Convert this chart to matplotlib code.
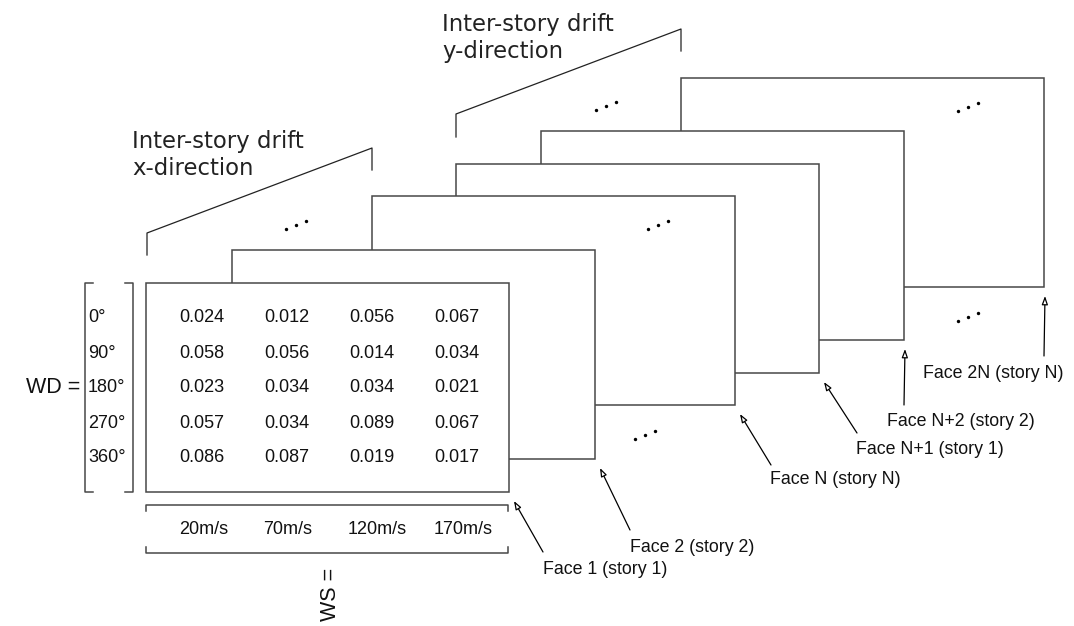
import matplotlib
matplotlib.use('Agg')
from matplotlib import pyplot as plt
from matplotlib.patches import Rectangle

# data shown in the front face
wd_labels = ['0°', '90°', '180°', '270°', '360°']
ws_labels = ['20m/s', '70m/s', '120m/s', '170m/s']
drift = [
    [0.024, 0.012, 0.056, 0.067],
    [0.058, 0.056, 0.014, 0.034],
    [0.023, 0.034, 0.034, 0.021],
    [0.057, 0.034, 0.089, 0.067],
    [0.086, 0.087, 0.019, 0.017],
]
face_labels = ['Face 1 (story 1)', 'Face 2 (story 2)', 'Face N (story N)',
               'Face N+1 (story 1)', 'Face N+2 (story 2)', 'Face 2N (story N)']

# layout (pixel space, y down)
face_xy = [(146, 283), (232, 250), (372, 196), (456, 164), (541, 131), (681, 78)]
face_w, face_h = 363, 209
arrow_tail = [(543, 552), (630, 530), (771, 465), (857, 433), (904, 405), (1044, 356)]
label_xy = [(543, 569), (630, 547), (770, 480), (856, 450), (887, 422), (923, 374)]
dots_at = [(286, 229), (648, 229), (596, 110), (958, 111), (958, 321), (635, 439)]

edge = '#484848'
txt = '#111111'
arial = 'Liberation Sans'
num_fs = 13

fig = plt.figure(figsize=(10.74, 6.26), dpi=100)
ax = fig.add_axes([0, 0, 1, 1])
ax.set_xlim(0, 1074)
ax.set_ylim(626, 0)
ax.axis('off')

# faces, back to front
for i in reversed(range(len(face_xy))):
    x, y = face_xy[i]
    ax.add_patch(Rectangle((x, y), face_w, face_h, facecolor='white',
                           edgecolor=edge, lw=1.1, zorder=2 + (6 - i)))

# arrows to the faces
for i, (x, y) in enumerate(face_xy):
    tip = (x + face_w + (5 if i < 4 else 1), y + face_h + 9)
    ax.annotate('', xy=tip, xytext=arrow_tail[i],
                arrowprops=dict(arrowstyle='-|>,head_length=0.5,head_width=0.18',
                                fc='white', ec='black', lw=0.9, shrinkA=0, shrinkB=0),
                zorder=20)
    ax.text(label_xy[i][0], label_xy[i][1], face_labels[i], fontsize=12.8,
            family=arial, color=txt, ha='left', va='center', zorder=20)

# ellipsis dots
for x, y in dots_at:
    ax.scatter([x, x + 10, x + 20], [y, y - 4, y - 8], s=6, color='black',
               zorder=20, linewidths=0)

# brackets over the groups of faces
fx, fy = face_xy[0]
nx, ny = face_xy[2]
ax.plot([fx + 1, fx + 1, nx, nx], [255, 233, 148, 170], color='#222222', lw=0.9, zorder=20)
n1x = face_xy[3][0]
n2x = face_xy[5][0]
ax.plot([n1x, n1x, n2x, n2x], [137, 114, 29, 51], color='#222222', lw=0.9, zorder=20)
ax.text(132, 130, 'Inter-story drift\nx-direction', fontsize=16.4, family='DejaVu Sans',
        color='#222222', ha='left', va='top', linespacing=1.2)
ax.text(442, 13, 'Inter-story drift\ny-direction', fontsize=16.4, family='DejaVu Sans',
        color='#222222', ha='left', va='top', linespacing=1.2)

# values in the front face
row_y = [fy + 35 + 35 * r for r in range(len(wd_labels))]
col_x = [fx + 56 + 85 * c for c in range(len(ws_labels))]
for r, row in enumerate(drift):
    for c, v in enumerate(row):
        ax.text(col_x[c], row_y[r], f'{v:.3f}', fontsize=num_fs, family=arial,
                color=txt, ha='center', va='center', zorder=20)

# WD vector
bl, br = 85, 133
ax.plot([bl + 8, bl, bl, bl + 8], [fy, fy, fy + face_h, fy + face_h], color=edge, lw=1.1)
ax.plot([br - 8, br, br, br - 8], [fy, fy, fy + face_h, fy + face_h], color=edge, lw=1.1)
for r, lab in enumerate(wd_labels):
    ax.text(bl + 3, row_y[r], lab, fontsize=num_fs, family=arial, color=txt,
            ha='left', va='center')
ax.text(80, fy + face_h / 2, 'WD =', fontsize=15.5, family=arial, color=txt,
        ha='right', va='center')

# WS vector
ws_top, ws_bot = 505, 553
ax.plot([fx, fx, fx + face_w - 1, fx + face_w - 1], [ws_top + 6, ws_top, ws_top, ws_top + 6],
        color=edge, lw=1.1)
ax.plot([fx, fx, fx + face_w - 1, fx + face_w - 1], [ws_bot - 6, ws_bot, ws_bot, ws_bot - 6],
        color=edge, lw=1.1)
ws_x = [204, 288, 377, 463]
for c, lab in enumerate(ws_labels):
    ax.text(ws_x[c], (ws_top + ws_bot) / 2, lab, fontsize=num_fs, family=arial,
            color=txt, ha='center', va='center')
ax.text(330, 568, 'WS =', fontsize=15.5, family=arial, color=txt, rotation=90,
        ha='center', va='top')

fig.savefig('out.png', dpi=100)
